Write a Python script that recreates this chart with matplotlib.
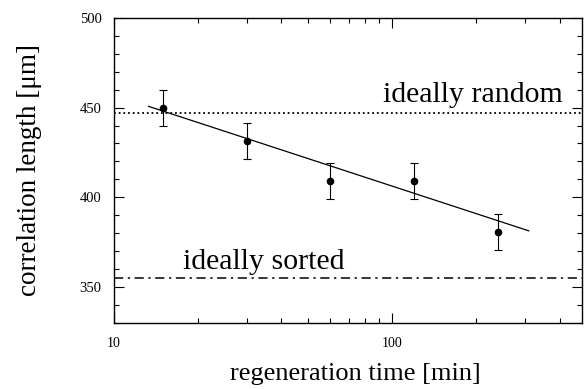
import numpy as np
import matplotlib
matplotlib.use("Agg")
import matplotlib.pyplot as plt
from matplotlib.ticker import FixedLocator, NullFormatter, FixedFormatter

plt.rcParams['font.family'] = ['Liberation Serif', 'DejaVu Serif']

# measured points
regen_time = [15, 30, 60, 120, 240]
corr_len = [450, 431.5, 409, 409, 380.5]
corr_err = [10, 10, 10, 10, 10]

# fitted line (end points)
fit_x = [13.3, 310]
fit_y = [450.7, 381.3]

ideal_random = 447
ideal_sorted = 355

fig = plt.figure(figsize=(5.85, 3.89), dpi=100)
ax = fig.add_axes([0.195, 0.170, 0.800, 0.784])

ax.set_xscale('log')
ax.set_xlim(10, 482)
ax.set_ylim(330, 500)

ax.axhline(ideal_random, color='black', lw=1.3, linestyle=(0, (1, 1.6)))
ax.axhline(ideal_sorted, color='black', lw=1.1, linestyle=(0, (6, 3, 1.5, 3)))
ax.plot(fit_x, fit_y, color='black', lw=0.9)
ax.errorbar(regen_time, corr_len, yerr=corr_err, fmt='o', color='black',
            ms=4.5, elinewidth=0.8, capsize=3, capthick=0.8)

ax.text(93, 453, 'ideally random', fontsize=21.5)
ax.text(17.7, 360, 'ideally sorted', fontsize=21.5)

ax.xaxis.set_major_locator(FixedLocator([10, 100]))
ax.xaxis.set_major_formatter(FixedFormatter(['10', '100']))
minors = [20, 30, 40, 50, 60, 70, 80, 90, 200, 300, 400]
ax.xaxis.set_minor_locator(FixedLocator(minors))
ax.xaxis.set_minor_formatter(NullFormatter())
ax.yaxis.set_major_locator(FixedLocator([350, 400, 450, 500]))
ax.yaxis.set_minor_locator(FixedLocator(np.arange(330, 500, 10)))

ax.tick_params(which='both', direction='in', top=True, right=True, width=0.8)
ax.tick_params(axis='y', labelsize=10.5, pad=9)
ax.tick_params(axis='x', labelsize=10, pad=10)
ax.tick_params(which='major', length=7)
ax.tick_params(which='minor', length=3.5)
for s in ax.spines.values():
    s.set_linewidth(1.0)

ax.set_xlabel('regeneration time [min]', fontsize=19)
ax.xaxis.set_label_coords(0.515, -0.13, transform=ax.transAxes)
ax.xaxis.label.set_va('top')
ax.set_ylabel('correlation length [μm]', fontsize=19.5, labelpad=27)

fig.savefig('out.png', dpi=100)
